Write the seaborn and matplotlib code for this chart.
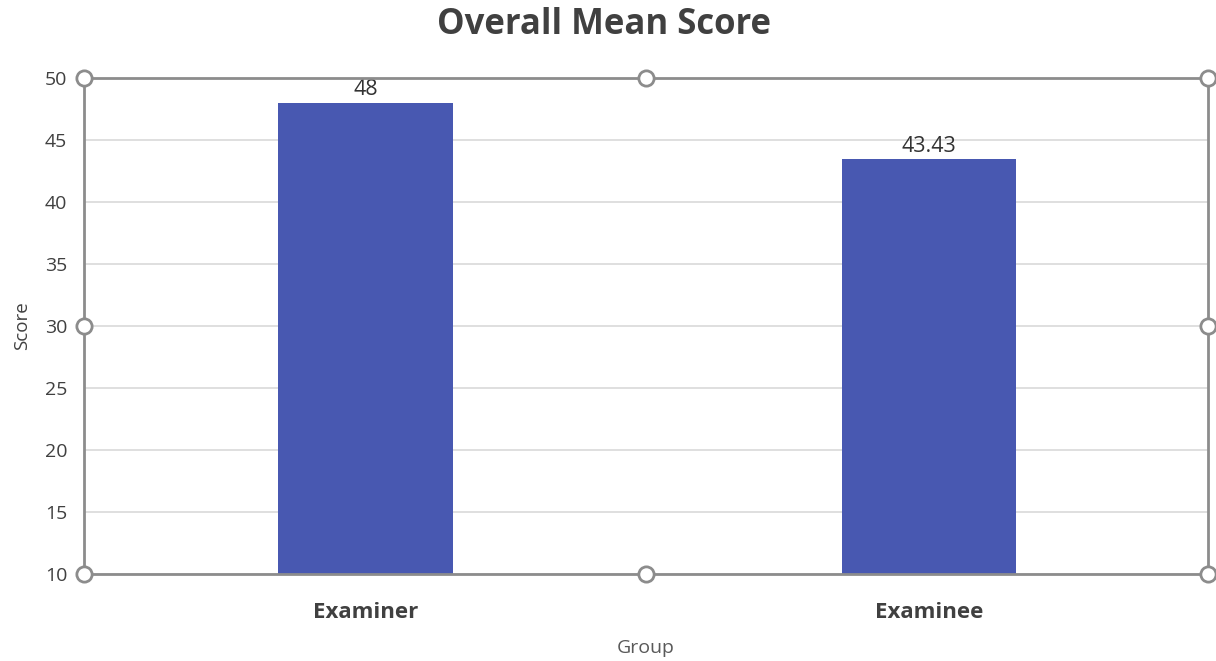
import matplotlib
matplotlib.use("Agg")
import matplotlib.pyplot as plt
import seaborn as sns
import pandas as pd

# Chart data
groups = ["Examiner", "Examinee"]
mean_scores = [48, 43.43]
score_labels = ["48", "43.43"]
y_ticks = [10, 15, 20, 25, 30, 35, 40, 45, 50]

bar_color = "#4858B1"
frame_color = "#8C8C8C"
text_color = "#404040"

sns.set_theme(style="white")
plt.rcParams["font.family"] = ["Open Sans", "DejaVu Sans"]

df = pd.DataFrame({"Group": groups, "Score": mean_scores})

fig = plt.figure(figsize=(12.16, 6.61), dpi=100)
ax = fig.add_axes([0.0691, 0.1316, 0.9243, 0.7504])

sns.barplot(data=df, x="Group", y="Score", color=bar_color, width=0.31,
            saturation=1, linewidth=0, edgecolor="none", ax=ax, zorder=3)

ax.set_ylim(10, 50)
ax.set_xlim(-0.5, 1.495)
ax.set_yticks(y_ticks)
ax.yaxis.grid(True, color="#D9D9D9", linewidth=1.2, zorder=0)
ax.set_axisbelow(True)

for spine in ax.spines.values():
    spine.set_color(frame_color)
    spine.set_linewidth(2)
    spine.set_zorder(4)

ax.tick_params(axis="y", labelsize=14, colors=text_color, length=0, pad=12)
ax.tick_params(axis="x", labelsize=16, colors=text_color, length=0, pad=20)
for lbl in ax.get_xticklabels():
    lbl.set_fontweight("bold")

ax.set_ylabel("Score", fontsize=13.5, color=text_color, labelpad=10)
ax.set_xlabel("Group", fontsize=14, color="#595959", labelpad=12)

# value labels above bars
for patch, text in zip(ax.patches, score_labels):
    ax.annotate(text, (patch.get_x() + patch.get_width() / 2, patch.get_height()),
                xytext=(0, 2), textcoords="offset points", ha="center", va="bottom",
                fontsize=15.5, color="#333333")

# selection handles on the chart frame
handle_pts = [(0, 0), (0.5, 0), (1, 0), (0, 0.5), (1, 0.5), (0, 1), (0.5, 1), (1, 1)]
for hx, hy in handle_pts:
    ax.plot(hx, hy, marker="o", markersize=11, markerfacecolor="white",
            markeredgecolor=frame_color, markeredgewidth=2,
            transform=ax.transAxes, clip_on=False, zorder=6)

fig.suptitle("Overall Mean Score", x=0.497, y=0.99, fontsize=25,
             fontweight="bold", color=text_color)

fig.savefig("out.png", dpi=100)
